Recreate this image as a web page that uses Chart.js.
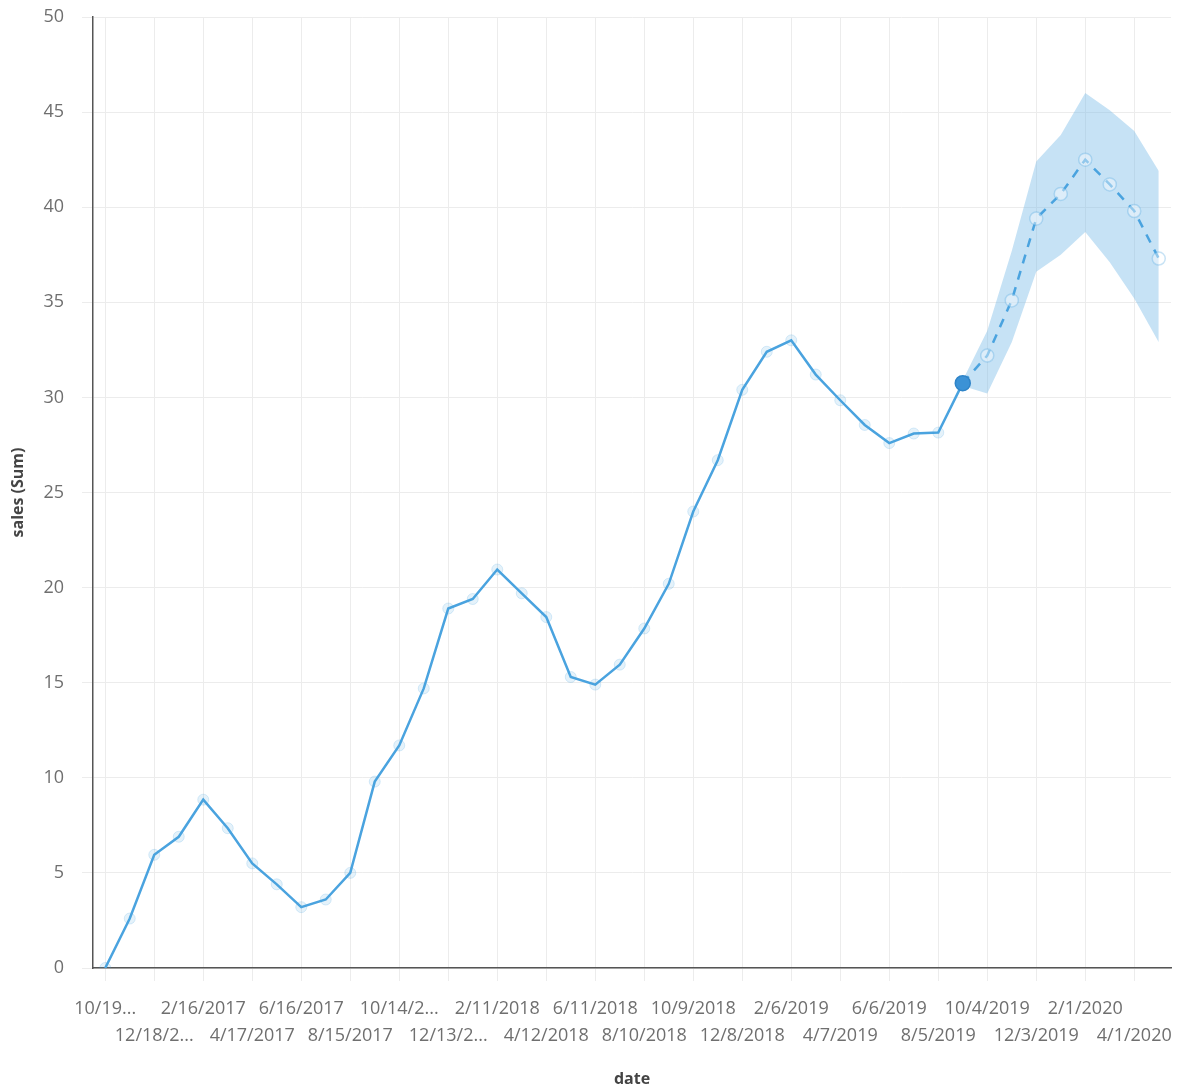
<!DOCTYPE html>
<html>
<head>
<meta charset="utf-8">
<script src="https://cdn.jsdelivr.net/npm/chart.js@4"></script>
<style>
  html, body { margin: 0; padding: 0; background: #fff; }
  #wrap { width: 1183px; height: 1092px; }
</style>
</head>
<body>
<div id="wrap"><canvas id="salesChart"></canvas></div>
<script>
// monthly categories (30 day steps)
const dates = [
  '10/19/2016', '11/18/2016', '12/18/2016', '1/17/2017', '2/16/2017', '3/18/2017',
  '4/17/2017', '5/17/2017', '6/16/2017', '7/16/2017', '8/15/2017', '9/14/2017',
  '10/14/2017', '11/13/2017', '12/13/2017', '1/12/2018', '2/11/2018', '3/13/2018',
  '4/12/2018', '5/12/2018', '6/11/2018', '7/11/2018', '8/10/2018', '9/9/2018',
  '10/9/2018', '11/8/2018', '12/8/2018', '1/7/2019', '2/6/2019', '3/8/2019',
  '4/7/2019', '5/7/2019', '6/6/2019', '7/6/2019', '8/5/2019', '9/4/2019',
  '10/4/2019', '11/3/2019', '12/3/2019', '1/2/2020', '2/1/2020', '3/2/2020',
  '4/1/2020', '5/1/2020'
];

// labels shown under every second category, as they appear (truncated)
const tickLabels = [
  '10/19...', '12/18/2...', '2/16/2017', '4/17/2017', '6/16/2017', '8/15/2017',
  '10/14/2...', '12/13/2...', '2/11/2018', '4/12/2018', '6/11/2018', '8/10/2018',
  '10/9/2018', '12/8/2018', '2/6/2019', '4/7/2019', '6/6/2019', '8/5/2019',
  '10/4/2019', '12/3/2019', '2/1/2020', '4/1/2020'
];

// actual sales, first 36 months
const actualSales = [
  0, 2.6, 5.95, 6.9, 8.85, 7.35, 5.5, 4.4, 3.2, 3.6, 5.0, 9.8,
  11.7, 14.7, 18.9, 19.4, 20.95, 19.7, 18.45, 15.3, 14.9, 15.95, 17.85, 20.2,
  24.0, 26.7, 30.4, 32.4, 33.0, 31.2, 29.85, 28.55, 27.6, 28.1, 28.15, 30.75
];

// forecast, starts at the last actual month
const forecastSales = [30.75, 32.2, 35.1, 39.4, 40.7, 42.5, 41.2, 39.8, 37.3];
const forecastUpper = [30.9, 33.5, 37.7, 42.4, 43.8, 46.0, 45.1, 44.0, 41.9];
const forecastLower = [30.6, 30.2, 32.9, 36.6, 37.5, 38.7, 37.1, 35.2, 32.9];

const yTicks = [0, 5, 10, 15, 20, 25, 30, 35, 40, 45, 50];

const forecastStart = actualSales.length - 1;
const pad = (arr, start) => dates.map((d, i) => (i >= start && i - start < arr.length) ? arr[i - start] : null);

const lineBlue = '#4aa3df';
const lastIdx = actualSales.length - 1;

new Chart(document.getElementById('salesChart').getContext('2d'), {
  type: 'line',
  data: {
    labels: dates,
    datasets: [
      {
        label: 'sales',
        data: pad(actualSales, 0),
        borderColor: lineBlue,
        borderWidth: 2.5,
        tension: 0,
        order: 0,
        pointRadius: ctx => ctx.dataIndex === lastIdx ? 7.5 : 5.5,
        pointBackgroundColor: ctx => ctx.dataIndex === lastIdx ? '#3b92d6' : 'rgba(74,163,223,0.14)',
        pointBorderColor: ctx => ctx.dataIndex === lastIdx ? '#2f84c8' : 'rgba(74,163,223,0.2)',
        pointBorderWidth: ctx => ctx.dataIndex === lastIdx ? 1.5 : 1
      },
      {
        label: 'forecast',
        data: pad(forecastSales, forecastStart),
        borderColor: lineBlue,
        borderWidth: 2.5,
        borderDash: [9, 8],
        tension: 0,
        order: 1,
        pointRadius: ctx => ctx.dataIndex === forecastStart ? 0 : 6.5,
        pointBackgroundColor: 'rgba(255,255,255,0.4)',
        pointBorderColor: 'rgba(74,163,223,0.3)',
        pointBorderWidth: 1.5
      },
      {
        label: 'upper',
        data: pad(forecastUpper, forecastStart),
        borderWidth: 0,
        pointRadius: 0,
        backgroundColor: 'rgba(120,186,232,0.42)',
        fill: '+1',
        tension: 0,
        order: 3
      },
      {
        label: 'lower',
        data: pad(forecastLower, forecastStart),
        borderWidth: 0,
        pointRadius: 0,
        fill: false,
        tension: 0,
        order: 4
      }
    ]
  },
  options: {
    responsive: true,
    maintainAspectRatio: false,
    animation: false,
    layout: { padding: { top: 17, right: 12, left: 0, bottom: 0 } },
    plugins: {
      legend: { display: false },
      tooltip: { enabled: false }
    },
    scales: {
      x: {
        offset: true,
        border: { display: true, color: '#555', width: 1.5 },
        grid: {
          color: ctx => (ctx.index % 2 === 0) ? '#ececec' : 'rgba(0,0,0,0)',
          lineWidth: 1,
          tickLength: 13,
          offset: false
        },
        ticks: {
          autoSkip: false,
          maxRotation: 0,
          minRotation: 0,
          color: '#6f6f6f',
          font: { family: 'Open Sans', size: 18, lineHeight: 1.5 },
          padding: 14,
          callback: function (val, i) {
            if (i % 2 !== 0) return '';
            const t = tickLabels[i / 2];
            return (i % 4 === 0) ? [t, ''] : ['', t];
          }
        },
        title: {
          display: true,
          text: 'date',
          color: '#444',
          font: { family: 'Open Sans', size: 16, weight: 'bold' },
          padding: { top: 14, bottom: 3 }
        },
        afterFit: s => { s.height = 124; }
      },
      y: {
        min: 0,
        max: 50,
        border: { display: true, color: '#555', width: 1.5 },
        grid: { color: '#ececec', tickLength: 11 },
        afterBuildTicks: s => { s.ticks = yTicks.map(v => ({ value: v })); },
        ticks: {
          color: '#6f6f6f',
          font: { family: 'Open Sans', size: 18 },
          padding: 18
        },
        title: {
          display: true,
          text: 'sales (Sum)',
          color: '#444',
          font: { family: 'Open Sans', size: 16, weight: 'bold' },
          padding: { top: 9, bottom: 0 }
        },
        afterFit: s => {
          s.width = 93;
          s.paddingTop = 0;
          s.paddingBottom = 0;
        }
      }
    }
  }
});
</script>
</body>
</html>
